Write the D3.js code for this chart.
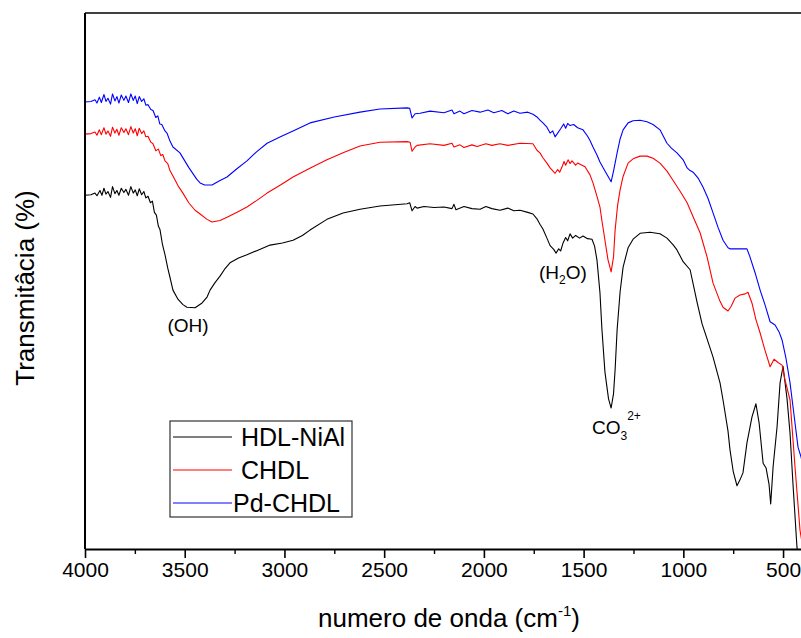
<!DOCTYPE html>
<html>
<head>
<meta charset="utf-8">
<script src="https://cdn.jsdelivr.net/npm/d3@7"></script>
<style>
  body { margin: 0; background: #fff; }
  svg { display: block; font-family: "Liberation Sans", Arial, sans-serif; }
</style>
</head>
<body>
<div id="chart"></div>
<script>
// espectros FTIR: [numero de onda, transmitancia (u.a.)]
var hdlNiAl = [[4000,66.0],[3970,66.1],[3950,66.4],[3940,65.9],[3925,66.9],[3915,66.0],[3905,67.3],[3895,66.2],[3885,66.7],[3872,65.6],[3862,67.6],[3850,66.3],[3840,66.9],[3830,66.0],[3818,67.3],[3805,66.5],[3795,67.1],[3782,66.0],[3770,67.6],[3758,66.4],[3748,67.0],[3738,65.9],[3728,67.2],[3716,66.1],[3705,66.7],[3695,65.5],[3684,65.8],[3672,64.6],[3662,64.9],[3652,62.8],[3642,62.3],[3632,60.2],[3624,59.6],[3612,56.9],[3599,54.9],[3585,52.4],[3574,50.7],[3559,48.3],[3534,46.6],[3509,45.6],[3489,45.1],[3448,45.0],[3413,45.9],[3388,47.0],[3373,48.3],[3350,49.6],[3323,50.9],[3300,52.2],[3273,53.4],[3230,54.3],[3188,54.9],[3130,55.8],[3072,56.7],[3010,57.1],[2957,57.6],[2910,58.5],[2872,59.5],[2787,61.5],[2706,62.7],[2621,63.4],[2521,64.0],[2385,64.4],[2372,64.6],[2360,63.1],[2345,63.9],[2335,63.6],[2300,63.9],[2250,63.7],[2200,63.8],[2160,63.5],[2150,64.3],[2140,63.3],[2100,63.9],[2060,63.5],[2019,63.4],[1990,63.9],[1960,63.5],[1919,63.2],[1880,63.6],[1850,63.1],[1819,63.2],[1780,62.8],[1754,62.5],[1734,61.6],[1719,60.6],[1704,59.7],[1684,58.0],[1668,56.6],[1650,55.9],[1638,55.2],[1625,56.0],[1615,55.6],[1603,57.1],[1590,58.1],[1580,57.5],[1568,58.8],[1555,58.0],[1540,58.5],[1520,58.0],[1503,58.4],[1480,57.9],[1458,57.8],[1445,56.5],[1433,53.9],[1418,47.8],[1408,40.9],[1393,33.0],[1375,28.0],[1362,26.3],[1350,29.0],[1342,33.5],[1332,40.9],[1317,48.0],[1302,52.6],[1277,56.2],[1252,57.8],[1217,58.9],[1167,59.1],[1117,58.8],[1082,58.0],[1052,56.8],[1032,55.8],[1001,53.6],[966,52.1],[931,46.0],[906,42.0],[881,39.2],[851,35.8],[816,31.0],[801,27.8],[776,22.0],[766,18.5],[750,14.5],[731,11.8],[716,12.9],[701,14.2],[681,19.8],[656,24.6],[636,27.1],[620,23.5],[600,16.0],[585,15.1],[570,12.0],[562,8.4],[550,15.3],[530,22.8],[515,31.0],[500,34.1],[480,28.0],[465,21.6],[450,12.0],[430,0.2],[410,-3.0]];

var chdl = [[4000,77.4],[3970,77.5],[3950,77.8],[3940,77.2],[3928,78.2],[3918,77.3],[3905,78.6],[3895,77.4],[3885,78.0],[3872,77.0],[3862,78.7],[3850,77.6],[3840,78.3],[3830,77.2],[3818,78.6],[3805,77.7],[3795,78.4],[3782,77.3],[3770,78.8],[3758,77.6],[3748,78.4],[3738,77.1],[3728,78.5],[3716,77.5],[3705,78.0],[3695,76.9],[3684,77.0],[3670,75.9],[3659,75.6],[3645,74.3],[3632,74.6],[3620,73.4],[3610,73.6],[3599,72.4],[3585,71.9],[3574,70.6],[3559,69.6],[3534,67.8],[3509,66.4],[3480,64.6],[3448,63.2],[3423,62.5],[3388,61.5],[3363,61.0],[3323,61.3],[3288,61.9],[3240,62.8],[3188,63.8],[3140,65.0],[3087,66.4],[3020,67.9],[2957,69.4],[2870,71.1],[2787,72.6],[2700,74.0],[2621,75.2],[2521,75.9],[2385,76.0],[2370,75.9],[2360,74.2],[2345,75.0],[2335,75.3],[2270,75.6],[2200,75.3],[2160,75.7],[2150,75.0],[2120,75.4],[2100,74.9],[2060,75.4],[2034,75.1],[1990,75.6],[1960,75.3],[1920,75.6],[1880,75.3],[1819,75.7],[1754,75.6],[1734,74.4],[1719,73.9],[1704,73.0],[1684,72.0],[1668,71.1],[1643,70.1],[1630,70.8],[1620,70.3],[1608,71.3],[1598,72.3],[1590,71.6],[1578,72.6],[1568,71.9],[1558,72.4],[1540,71.6],[1530,72.0],[1503,71.5],[1493,71.3],[1468,69.8],[1453,68.3],[1433,65.8],[1418,63.8],[1408,61.2],[1393,57.6],[1378,54.0],[1362,51.7],[1350,54.5],[1342,59.5],[1330,64.0],[1317,67.0],[1302,69.5],[1277,72.0],[1252,72.8],[1217,73.3],[1182,73.3],[1152,72.9],[1117,72.0],[1082,70.5],[1052,68.8],[1017,66.8],[981,64.6],[951,62.0],[916,59.0],[881,54.5],[851,49.6],[816,46.2],[801,45.1],[776,44.4],[760,45.3],[741,46.8],[716,47.4],[690,47.6],[676,47.9],[656,45.9],[636,42.8],[615,40.3],[590,37.0],[565,34.0],[545,35.4],[525,34.8],[505,34.3],[490,31.5],[465,27.8],[440,15.3],[415,3.5],[405,1.2]];

var pdChdl = [[4000,83.4],[3970,83.5],[3950,83.8],[3940,83.2],[3928,84.3],[3918,83.3],[3905,84.8],[3895,83.5],[3885,84.1],[3872,83.0],[3862,84.9],[3850,83.6],[3840,84.4],[3830,83.2],[3818,84.7],[3805,83.7],[3795,84.5],[3782,83.3],[3770,84.9],[3758,83.7],[3748,84.5],[3738,83.1],[3728,84.4],[3716,83.5],[3705,84.0],[3695,82.8],[3684,82.9],[3670,82.0],[3659,81.8],[3645,80.5],[3635,80.8],[3625,79.3],[3615,79.2],[3599,78.0],[3589,77.6],[3574,76.1],[3559,75.0],[3524,73.9],[3480,71.2],[3440,69.0],[3423,68.3],[3400,67.9],[3363,67.9],[3330,68.6],[3288,69.4],[3240,70.9],[3188,72.4],[3140,74.1],[3087,75.7],[3020,76.9],[2957,78.0],[2872,79.5],[2750,80.6],[2621,81.5],[2521,82.1],[2385,82.3],[2372,82.2],[2360,80.4],[2345,81.2],[2320,81.3],[2270,81.7],[2200,81.4],[2160,81.9],[2150,81.2],[2120,81.7],[2100,81.2],[2060,81.8],[2019,81.5],[1980,81.9],[1950,81.4],[1910,81.8],[1880,81.2],[1850,81.7],[1819,81.3],[1780,81.5],[1754,81.1],[1734,80.6],[1719,80.0],[1704,79.5],[1684,78.7],[1668,77.6],[1655,78.0],[1643,76.9],[1630,77.6],[1615,78.4],[1600,79.3],[1590,78.5],[1580,79.4],[1568,79.0],[1550,79.2],[1530,78.6],[1503,78.2],[1480,77.0],[1468,76.2],[1453,75.0],[1433,73.5],[1418,72.2],[1400,71.0],[1385,70.0],[1362,68.5],[1350,70.5],[1332,73.9],[1317,76.5],[1302,78.2],[1277,79.5],[1252,79.9],[1217,80.0],[1182,79.7],[1152,79.2],[1117,78.2],[1082,75.7],[1060,74.8],[1032,73.9],[1001,72.6],[981,71.1],[966,70.6],[951,70.3],[926,69.2],[901,67.5],[876,65.4],[851,62.7],[826,60.0],[801,57.6],[776,56.2],[766,56.0],[741,56.0],[716,56.0],[681,56.0],[666,54.5],[640,51.5],[615,48.3],[590,45.5],[565,42.4],[540,41.8],[520,40.5],[505,39.0],[485,35.5],[465,31.0],[445,25.0],[425,19.0],[410,17.2],[400,15.5]];

var seriesNames = ["HDL-NiAl", "CHDL", "Pd-CHDL"];
var seriesColors = ["#000000", "#ff0000", "#0000ff"];
var xTicks = [4000, 3500, 3000, 2500, 2000, 1500, 1000, 500];
var xMinorTicks = [3750, 3250, 2750, 2250, 1750, 1250, 750];

var width = 801, height = 638;
var margin = {top: 13, right: -2, bottom: 89, left: 85};

var svg = d3.select("#chart").append("svg")
  .attr("width", width)
  .attr("height", height);

var x = d3.scaleLinear()
  .domain([4000, 400])
  .range([margin.left, width - margin.right]);

var y = d3.scaleLinear()
  .domain([0, 100])
  .range([height - margin.bottom, margin.top]);

svg.append("clipPath").attr("id", "plotClip")
  .append("rect")
  .attr("x", margin.left).attr("y", margin.top)
  .attr("width", width - margin.left).attr("height", height - margin.bottom - margin.top);

var line = d3.line()
  .x(function(d) { return x(d[0]); })
  .y(function(d) { return y(d[1]); });

var allSeries = [hdlNiAl, chdl, pdChdl];

svg.append("g").attr("clip-path", "url(#plotClip)")
  .selectAll("path")
  .data(allSeries).enter()
  .append("path")
  .attr("d", line)
  .attr("fill", "none")
  .attr("stroke", function(d, i) { return seriesColors[i]; })
  .attr("stroke-width", 1.1)
  .attr("stroke-linejoin", "round");

// eje x abajo
var xAxis = d3.axisBottom(x)
  .tickValues(xTicks)
  .tickFormat(d3.format("d"))
  .tickSize(9)
  .tickSizeOuter(0)
  .tickPadding(4);

var gx = svg.append("g")
  .attr("transform", "translate(0," + (height - margin.bottom) + ")")
  .call(xAxis);
gx.select(".domain").attr("stroke-width", 1.8);
gx.selectAll(".tick line").attr("stroke-width", 1.6);
gx.selectAll(".tick text")
  .attr("font-size", "21px")
  .attr("fill", "#000");

var gxm = svg.append("g")
  .attr("transform", "translate(0," + (height - margin.bottom) + ")")
  .call(d3.axisBottom(x).tickValues(xMinorTicks).tickSize(5).tickFormat(""));
gxm.select(".domain").remove();
gxm.selectAll(".tick line").attr("stroke-width", 1.4);

// eje y (sin marcas) y borde superior
svg.append("line")
  .attr("x1", margin.left).attr("x2", margin.left)
  .attr("y1", margin.top).attr("y2", height - margin.bottom)
  .attr("stroke", "#000").attr("stroke-width", 2);
svg.append("line")
  .attr("x1", margin.left).attr("x2", width)
  .attr("y1", margin.top).attr("y2", margin.top)
  .attr("stroke", "#000").attr("stroke-width", 1.5);

// titulos de ejes
var xTitle = svg.append("text")
  .attr("x", 449).attr("y", 627)
  .attr("text-anchor", "middle")
  .attr("font-size", "26px");
xTitle.append("tspan").text("numero de onda (cm");
xTitle.append("tspan").attr("dy", -11).attr("font-size", "15px").text("-1");
xTitle.append("tspan").attr("dy", 11).text(")");

svg.append("text")
  .attr("transform", "translate(34,288) rotate(-90)")
  .attr("text-anchor", "middle")
  .attr("font-size", "26px")
  .text("Transmitâcia (%)");

// anotaciones de bandas
svg.append("text")
  .attr("x", 188).attr("y", 332)
  .attr("text-anchor", "middle")
  .attr("font-size", "19px")
  .text("(OH)");

var h2o = svg.append("text")
  .attr("x", 539).attr("y", 279)
  .attr("font-size", "19px");
h2o.append("tspan").text("(H");
h2o.append("tspan").attr("dy", 5).attr("font-size", "12px").text("2");
h2o.append("tspan").attr("dy", -5).text("O)");

var co3 = svg.append("text")
  .attr("x", 592).attr("y", 434)
  .attr("font-size", "19px");
co3.append("tspan").text("CO");
co3.append("tspan").attr("dy", 6).attr("font-size", "12px").text("3");
co3.append("tspan").attr("dy", -20).attr("font-size", "12px").text("2+");

// leyenda
var legend = svg.append("g");
legend.append("rect")
  .attr("x", 170).attr("y", 421)
  .attr("width", 182).attr("height", 96)
  .attr("fill", "#fff")
  .attr("stroke", "#333")
  .attr("stroke-width", 1.2);

var legendRows = [437, 470, 503];
var legendTextX = [241, 241, 233];
seriesNames.forEach(function(name, i) {
  legend.append("line")
    .attr("x1", 173).attr("x2", 232)
    .attr("y1", legendRows[i]).attr("y2", legendRows[i])
    .attr("stroke", seriesColors[i])
    .attr("stroke-width", 1.1);
  legend.append("text")
    .attr("x", legendTextX[i]).attr("y", legendRows[i] + 9)
    .attr("font-size", "25px")
    .text(name);
});
</script>
</body>
</html>
